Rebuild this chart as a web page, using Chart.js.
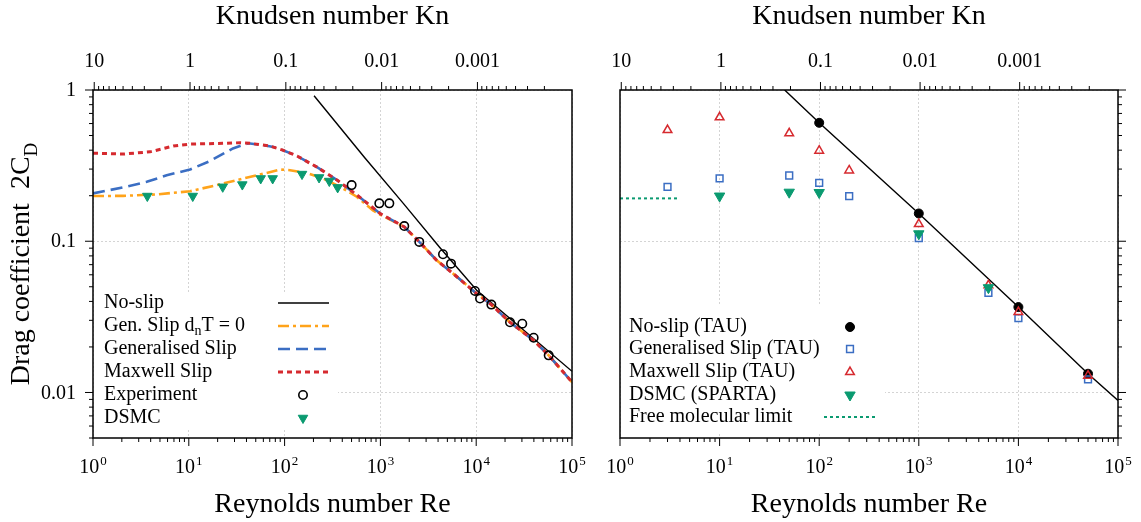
<!DOCTYPE html>
<html>
<head>
<meta charset="utf-8">
<script src="https://cdn.jsdelivr.net/npm/chart.js@4"></script>
<style>
  html, body { margin: 0; padding: 0; background: #fff; }
  #wrap { position: relative; width: 1141px; height: 522px; }
  canvas { position: absolute; top: 0; }
  #left { left: 0; }
  #right { left: 590px; }
</style>
</head>
<body>
<div id="wrap">
  <canvas id="left" width="600" height="522"></canvas>
  <canvas id="right" width="551" height="522"></canvas>
</div>
<script>
const SERIF = "'Liberation Serif', 'Times New Roman', Times, serif";
const RE_MIN = 1, RE_MAX = 1e5;
const CD_MIN = 0.005, CD_MAX = 1;
const KN_RE = 10.3; // Kn * Re for the top axis

// ---- left panel (curves + experiment) ----
const noSlipRe = [203, 690, 1734, 4190, 10120, 28650, 100000];
const noSlipCd = [0.917, 0.355, 0.178, 0.0905, 0.0474, 0.0271, 0.0138];

const genT0Re = [1, 2.06, 4.62, 10.3, 19.5, 37.1, 65, 89.6, 114, 170, 252, 379, 566, 837, 991, 1777, 2547, 3866, 5770, 10120, 14390, 22530, 39800, 57100, 100000];
const genT0Cd = [0.199, 0.1995, 0.204, 0.214, 0.235, 0.26, 0.283, 0.298, 0.295, 0.283, 0.26, 0.229, 0.197, 0.16, 0.15, 0.1244, 0.099, 0.0748, 0.061, 0.045, 0.0381, 0.0291, 0.0221, 0.0176, 0.0117];

const genSlipRe = [1, 2.06, 3.64, 5.88, 10.3, 16.6, 28.9, 41.5, 59.5, 83.2, 96, 135, 218, 352, 570, 991, 1777, 2547, 3866, 5770, 10120, 14390, 22530, 39800, 57100, 100000];
const genSlipCd = [0.207, 0.227, 0.247, 0.273, 0.298, 0.339, 0.411, 0.444, 0.432, 0.415, 0.40, 0.366, 0.309, 0.254, 0.202, 0.1526, 0.1244, 0.099, 0.0748, 0.061, 0.045, 0.0381, 0.0291, 0.0221, 0.0176, 0.0117];

const maxwellRe = [1, 2.07, 3.94, 6.89, 10.3, 22.7, 34.2, 43.5, 70.4, 96, 135, 218, 352, 570, 991, 1777, 2547, 3866, 5770, 10120, 14390, 22530, 39800, 57100, 100000];
const maxwellCd = [0.382, 0.377, 0.39, 0.426, 0.439, 0.444, 0.448, 0.444, 0.426, 0.40, 0.366, 0.309, 0.254, 0.202, 0.1526, 0.1244, 0.099, 0.0748, 0.061, 0.045, 0.0381, 0.0291, 0.0221, 0.0176, 0.0117];

const expRe = [501, 974, 1240, 1775, 2547, 4500, 5460, 9710, 10960, 14390, 22530, 30270, 39800, 57100];
const expCd = [0.235, 0.178, 0.178, 0.126, 0.099, 0.082, 0.0711, 0.0469, 0.0418, 0.0381, 0.0291, 0.0285, 0.023, 0.0176];

const dsmcRe = [3.69, 11, 22.6, 36.2, 56.3, 75.1, 152, 229, 293, 358];
const dsmcCd = [0.199, 0.199, 0.229, 0.237, 0.26, 0.26, 0.278, 0.264, 0.25, 0.227];

// ---- right panel (TAU / SPARTA runs) ----
const fitRe = [45, 100, 1000, 10000, 50000, 100000];
const fitCd = [1.0, 0.607, 0.1526, 0.0367, 0.0133, 0.00885];

const tauNoSlipRe = [100, 1000, 10000, 50000];
const tauNoSlipCd = [0.607, 0.1526, 0.0367, 0.0133];

const tauRe = [3, 10, 50, 100, 200, 1000, 5000, 10000, 50000];
const tauGenCd = [0.229, 0.26, 0.272, 0.243, 0.199, 0.105, 0.0455, 0.031, 0.0122];
const tauMaxCd = [0.543, 0.66, 0.517, 0.397, 0.294, 0.130, 0.0511, 0.034, 0.0129];

const spartaRe = [10, 50, 100, 1000, 5000];
const spartaCd = [0.199, 0.211, 0.21, 0.112, 0.0493];

const fmlRe = [1, 3.8];
const fmlCd = [0.192, 0.192];

const GRID = '#d4d4d4';
const ORANGE = '#ffa31a', BLUE = '#3b6ec3', RED = '#d62a2f', GREEN = '#0a9a70';

function pts(xs, ys) { return xs.map((x, i) => ({ x: x, y: ys[i] })); }

function majorsOnly(scale) {
  const out = [];
  for (let e = Math.ceil(Math.log10(scale.min) - 1e-9); Math.pow(10, e) <= scale.max * 1.0001; e++) {
    out.push({ value: Math.pow(10, e) });
  }
  scale.ticks = out;
}

function logTicks(lo, hi) {
  const out = [];
  for (let e = Math.floor(Math.log10(lo)); e <= Math.ceil(Math.log10(hi)); e++) {
    for (let d = 1; d <= 9; d++) {
      const v = d * Math.pow(10, e);
      if (v >= lo * 0.9999 && v <= hi * 1.0001) out.push({ v: v, major: d === 1 });
    }
  }
  return out;
}

function decLabel(v) {
  const e = Math.round(Math.log10(v));
  return e >= 0 ? String(Math.pow(10, e)) : '0.' + '0'.repeat(-e - 1) + '1';
}

// text with optional subscript parts
function drawRich(ctx, segs, x, y, size, align) {
  const parts = typeof segs === 'string' ? [{ t: segs }] : segs;
  const fontOf = p => (p.sub ? Math.round(size * 0.68) : size) + 'px ' + SERIF;
  let total = 0;
  parts.forEach(p => { ctx.font = fontOf(p); p.w = ctx.measureText(p.t).width; total += p.w; });
  let cx = align === 'center' ? x - total / 2 : x;
  ctx.textAlign = 'left';
  parts.forEach(p => {
    ctx.font = fontOf(p);
    ctx.fillText(p.t, cx, p.sub ? y + size * 0.28 : y);
    cx += p.w;
  });
}

function drawPow(ctx, x, baseline, exp) {
  ctx.font = '20px ' + SERIF;
  const w1 = ctx.measureText('10').width;
  ctx.font = '13px ' + SERIF;
  const w2 = ctx.measureText(exp).width;
  const start = x - (w1 + w2 + 1) / 2;
  ctx.textAlign = 'left';
  ctx.textBaseline = 'alphabetic';
  ctx.font = '20px ' + SERIF;
  ctx.fillText('10', start, baseline);
  ctx.font = '13px ' + SERIF;
  ctx.fillText(exp, start + w1 + 1, baseline - 8);
}

function decor(cfg) {
  return {
    id: 'decor',
    afterDatasetsDraw(chart) {
      const L = cfg.legend;
      const ctx = chart.ctx;
      ctx.save();
      ctx.fillStyle = '#fff';
      ctx.fillRect(L.box[0], L.box[1], L.box[2] - L.box[0], L.box[3] - L.box[1]);
      L.items.forEach((it, i) => {
        const y = L.rows[i];
        const ds = chart.data.datasets[it.ds];
        ctx.fillStyle = '#000';
        ctx.textBaseline = 'middle';
        drawRich(ctx, it.text, L.textX, y, 20, 'left');
        if (it.line) {
          ctx.strokeStyle = ds.borderColor;
          ctx.lineWidth = ds.borderWidth;
          ctx.setLineDash(ds.borderDash || []);
          ctx.beginPath();
          ctx.moveTo(L.lineX[0], y);
          ctx.lineTo(L.lineX[1], y);
          ctx.stroke();
          ctx.setLineDash([]);
        } else {
          ctx.fillStyle = ds.pointBackgroundColor;
          ctx.strokeStyle = ds.pointBorderColor;
          ctx.lineWidth = ds.pointBorderWidth;
          Chart.helpers.drawPoint(ctx, {
            pointStyle: ds.pointStyle, radius: ds.pointRadius,
            rotation: ds.pointRotation || 0, borderWidth: ds.pointBorderWidth
          }, L.markX, y);
        }
      });
      ctx.restore();
    },
    afterDraw(chart) {
      const ctx = chart.ctx;
      const a = chart.chartArea;
      ctx.save();
      ctx.strokeStyle = '#000';
      ctx.fillStyle = '#000';
      cfg.sides.forEach(s => {
        const scale = chart.scales[s.id];
        logTicks(scale.min, scale.max).forEach(t => {
          const p = scale.getPixelForValue(t.v);
          const len = t.major ? 8 : 4;
          ctx.lineWidth = 1;
          ctx.beginPath();
          if (s.side === 'bottom') { ctx.moveTo(p, a.bottom); ctx.lineTo(p, a.bottom + len); }
          if (s.side === 'top') { ctx.moveTo(p, a.top); ctx.lineTo(p, a.top - len); }
          if (s.side === 'left') { ctx.moveTo(a.left, p); ctx.lineTo(a.left - len, p); }
          if (s.side === 'right') { ctx.moveTo(a.right, p); ctx.lineTo(a.right + len, p); }
          ctx.stroke();
          if (!t.major || !s.label) return;
          if (s.label === 'pow') {
            drawPow(ctx, p, a.bottom + 35, String(Math.round(Math.log10(t.v))));
          } else if (s.side === 'top') {
            ctx.font = '20px ' + SERIF;
            ctx.textAlign = 'center';
            ctx.textBaseline = 'alphabetic';
            ctx.fillText(decLabel(t.v), p, a.top - 23);
          } else if (s.side === 'left') {
            ctx.font = '20px ' + SERIF;
            ctx.textAlign = 'right';
            ctx.textBaseline = 'middle';
            ctx.fillText(decLabel(t.v), a.left - 17, p + 1);
          }
        });
      });
      // frame
      ctx.lineWidth = 1.5;
      ctx.strokeRect(a.left, a.top, a.right - a.left, a.bottom - a.top);
      // axis titles
      const cx = (a.left + a.right) / 2;
      ctx.textBaseline = 'alphabetic';
      drawRich(ctx, 'Reynolds number Re', cx, a.bottom + 74, 28, 'center');
      drawRich(ctx, 'Knudsen number Kn', cx, a.top - 66, 28, 'center');
      if (cfg.yTitle) {
        ctx.translate(29, (a.top + a.bottom) / 2);
        ctx.rotate(-Math.PI / 2);
        drawRich(ctx, cfg.yTitle, 0, 0, 28, 'center');
      }
      ctx.restore();
    }
  };
}

function makeScales(yPos, yWidth) {
  return {
    x: {
      type: 'logarithmic', position: 'bottom', min: RE_MIN, max: RE_MAX,
      afterBuildTicks: majorsOnly,
      afterFit: s => { s.height = 84; },
      ticks: { display: false },
      grid: { color: GRID, lineWidth: 1, drawTicks: false },
      border: { display: false, dash: [2, 2] }
    },
    kn: {
      type: 'logarithmic', position: 'top', reverse: true,
      min: KN_RE / RE_MAX, max: KN_RE / RE_MIN,
      afterFit: s => { s.height = 90; },
      ticks: { display: false },
      grid: { display: false, drawTicks: false },
      border: { display: false }
    },
    y: {
      type: 'logarithmic', position: yPos, min: CD_MIN, max: CD_MAX,
      afterBuildTicks: majorsOnly,
      afterFit: s => { s.width = yWidth; },
      ticks: { display: false },
      grid: { color: GRID, lineWidth: 1, drawTicks: false },
      border: { display: false, dash: [2, 2] }
    }
  };
}

function lineSet(label, xs, ys, color, width, dash, order) {
  return {
    label: label, data: pts(xs, ys), showLine: true, pointRadius: 0,
    borderColor: color, borderWidth: width, borderDash: dash, order: order, fill: false
  };
}

function markSet(label, xs, ys, style, radius, rotation, fillC, strokeC, bw, order) {
  return {
    label: label, data: pts(xs, ys), showLine: false,
    pointStyle: style, pointRadius: radius, pointRotation: rotation,
    pointBackgroundColor: fillC, pointBorderColor: strokeC, pointBorderWidth: bw,
    backgroundColor: fillC, borderColor: strokeC, order: order
  };
}

const common = {
  responsive: false,
  animation: false,
  devicePixelRatio: 1,
  events: [],
  plugins: { legend: { display: false }, tooltip: { enabled: false } }
};

new Chart(document.getElementById('left'), {
  type: 'scatter',
  data: {
    datasets: [
      lineSet('No-slip', noSlipRe, noSlipCd, '#000', 1.4, [], 5),
      lineSet('Gen. Slip dnT = 0', genT0Re, genT0Cd, ORANGE, 2.6, [11, 4, 3, 4], 4),
      lineSet('Generalised Slip', genSlipRe, genSlipCd, BLUE, 2.6, [12, 6], 3),
      lineSet('Maxwell Slip', maxwellRe, maxwellCd, RED, 3, [5, 4], 2),
      markSet('Experiment', expRe, expCd, 'circle', 4.2, 0, 'rgba(0,0,0,0)', '#000', 1.6, 1),
      markSet('DSMC', dsmcRe, dsmcCd, 'triangle', 5.5, 180, GREEN, GREEN, 1, 0)
    ]
  },
  options: Object.assign({}, common, {
    layout: { padding: { right: 28 } },
    scales: makeScales('left', 93)
  }),
  plugins: [decor({
    sides: [
      { id: 'x', side: 'bottom', label: 'pow' },
      { id: 'kn', side: 'top', label: 'dec' },
      { id: 'y', side: 'left', label: 'dec' }
    ],
    yTitle: [{ t: 'Drag coefficient  2C' }, { t: 'D', sub: true }],
    legend: {
      box: [94, 293, 338, 430],
      textX: 104, markX: 303, lineX: [278, 329],
      rows: [303, 326, 349, 372, 395, 418],
      items: [
        { ds: 0, line: true, text: 'No-slip' },
        { ds: 1, line: true, text: [{ t: 'Gen. Slip d' }, { t: 'n', sub: true }, { t: 'T = 0' }] },
        { ds: 2, line: true, text: 'Generalised Slip' },
        { ds: 3, line: true, text: 'Maxwell Slip' },
        { ds: 4, text: 'Experiment' },
        { ds: 5, text: 'DSMC' }
      ]
    }
  })]
});

new Chart(document.getElementById('right'), {
  type: 'scatter',
  data: {
    datasets: [
      lineSet('No-slip fit', fitRe, fitCd, '#000', 1.4, [], 5),
      markSet('No-slip (TAU)', tauNoSlipRe, tauNoSlipCd, 'circle', 4.5, 0, '#000', '#000', 1, 3),
      markSet('Generalised Slip (TAU)', tauRe, tauGenCd, 'rect', 4.8, 0, 'rgba(0,0,0,0)', BLUE, 1.5, 2),
      markSet('Maxwell Slip (TAU)', tauRe, tauMaxCd, 'triangle', 5, 0, 'rgba(0,0,0,0)', RED, 1.5, 1),
      markSet('DSMC (SPARTA)', spartaRe, spartaCd, 'triangle', 6, 180, GREEN, GREEN, 1, 0),
      lineSet('Free molecular limit', fmlRe, fmlCd, GREEN, 2, [3, 3], 4)
    ]
  },
  options: Object.assign({}, common, {
    layout: { padding: { left: 30 } },
    scales: makeScales('right', 23)
  }),
  plugins: [decor({
    sides: [
      { id: 'x', side: 'bottom', label: 'pow' },
      { id: 'kn', side: 'top', label: 'dec' },
      { id: 'y', side: 'right', label: null }
    ],
    yTitle: null,
    legend: {
      box: [31, 305, 295, 432],
      textX: 39, markX: 260, lineX: [234, 286],
      rows: [327, 349, 372, 395, 417],
      items: [
        { ds: 1, text: 'No-slip (TAU)' },
        { ds: 2, text: 'Generalised Slip (TAU)' },
        { ds: 3, text: 'Maxwell Slip (TAU)' },
        { ds: 4, text: 'DSMC (SPARTA)' },
        { ds: 5, line: true, text: 'Free molecular limit' }
      ]
    }
  })]
});
</script>
</body>
</html>
